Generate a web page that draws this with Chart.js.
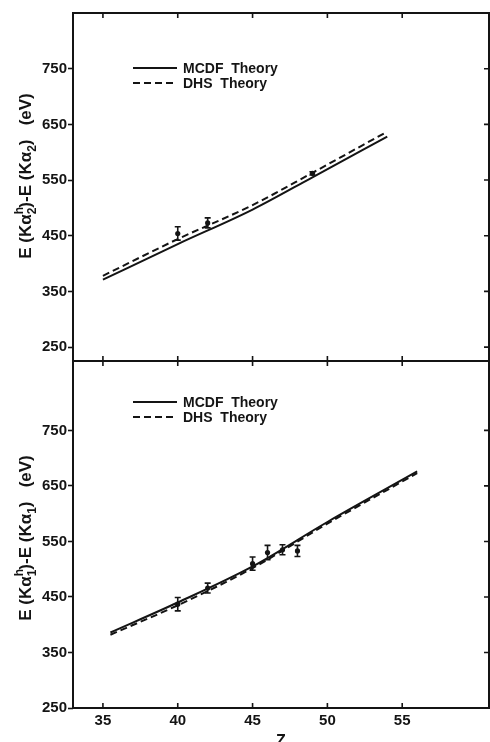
<!DOCTYPE html>
<html>
<head>
<meta charset="utf-8">
<script src="https://cdn.jsdelivr.net/npm/chart.js@4.4.1/dist/chart.umd.min.js"></script>
<style>
    html, body { margin: 0; padding: 0; background: #fff; }
    #wrap { position: relative; width: 490px; height: 742px; overflow: hidden; }
    canvas { position: absolute; left: 0; }
    #top { top: 0; }
    #bot { top: 352px; }
</style>
</head>
<body>
<div id="wrap">
    <canvas id="top" width="490" height="370"></canvas>
    <canvas id="bot" width="490" height="390"></canvas>
</div>
<script>
    "use strict";

    const FONT = '"Liberation Sans", Arial, sans-serif';
    const INK = "#141414";

    // tick labels shared by both panels
    const zTicks = [35, 40, 45, 50, 55];
    const eTicks = [250, 350, 450, 550, 650, 750];

    // upper panel: E(Ka2 h) - E(Ka2)
    const a2Z = [35, 40, 45, 49, 54];
    const a2Mcdf = [371, 435, 497, 555, 628];
    const a2Dhs = [378, 444, 505, 563, 637];
    const a2ExpZ = [40, 42, 49];
    const a2Exp = [454, 473, 562];
    const a2Err = [12, 9, 3];

    // lower panel: E(Ka1 h) - E(Ka1)
    const a1Z = [35.5, 40, 45, 50, 56];
    const a1Mcdf = [386, 440, 505, 585, 676];
    const a1Dhs = [382, 435, 502, 582, 673];
    const a1ExpZ = [40, 42, 45, 46, 47, 48];
    const a1Exp = [437, 466, 510, 530, 535, 533];
    const a1Err = [12, 9, 12, 13, 9, 10];

    const DASH = [7, 4];

    function pts(xs, ys) {
        return xs.map((x, i) => ({ x, y: ys[i] }));
    }

    /** Rotated axis title with sub/superscripts. part = [text, "sup"|"sub"|null, noAdvance] */
    function drawRich(ctx, parts, cx, cy, size) {
        const big = `bold ${size}px ${FONT}`;
        const small = `bold ${Math.round(size * 0.7)}px ${FONT}`;
        let total = 0;
        parts.forEach(p => {
            ctx.font = p[1] ? small : big;
            if (!p[2]) total += ctx.measureText(p[0]).width;
        });
        ctx.save();
        ctx.translate(cx, cy);
        ctx.rotate(-Math.PI / 2);
        ctx.fillStyle = INK;
        ctx.textAlign = "left";
        ctx.textBaseline = "alphabetic";
        let px = -total / 2;
        parts.forEach(p => {
            ctx.font = p[1] ? small : big;
            const dy = p[1] === "sup" ? -size * 0.5 : p[1] === "sub" ? size * 0.3 : 0;
            ctx.fillText(p[0], px, size * 0.36 + dy);
            if (!p[2]) px += ctx.measureText(p[0]).width;
        });
        ctx.restore();
    }

    const paper = {
        id: "paper",
        afterDraw(chart, args, o) {
            const { ctx, chartArea: a, scales: { x, y } } = chart;
            ctx.save();
            ctx.strokeStyle = INK;
            ctx.lineWidth = 2;
            ctx.strokeRect(a.left, a.top, a.right - a.left, a.bottom - a.top);

            // inward ticks on the right and on top / bottom edges
            ctx.lineWidth = 1.6;
            ctx.beginPath();
            eTicks.forEach(v => {
                const py = y.getPixelForValue(v);
                ctx.moveTo(a.right, py); ctx.lineTo(a.right - 5, py);
            });
            zTicks.forEach(v => {
                const px = x.getPixelForValue(v);
                if (o.topTick) { ctx.moveTo(px, a.top); ctx.lineTo(px, a.top + o.topTick); }
                ctx.moveTo(px, a.bottom + o.botOut); ctx.lineTo(px, a.bottom - 5);
            });
            ctx.stroke();

            // error bars
            ctx.lineWidth = 1.6;
            ctx.beginPath();
            o.expZ.forEach((z, i) => {
                const px = x.getPixelForValue(z);
                const hi = y.getPixelForValue(o.exp[i] + o.err[i]);
                const lo = y.getPixelForValue(o.exp[i] - o.err[i]);
                ctx.moveTo(px, hi); ctx.lineTo(px, lo);
                ctx.moveTo(px - 3, hi); ctx.lineTo(px + 3, hi);
                ctx.moveTo(px - 3, lo); ctx.lineTo(px + 3, lo);
            });
            ctx.stroke();

            // legend
            ctx.font = `bold 14px ${FONT}`;
            ctx.fillStyle = INK;
            ctx.textBaseline = "middle";
            [0, 1].forEach(i => {
                const ds = chart.data.datasets[i];
                const ly = a.top + o.legendTop + i * 15;
                ctx.setLineDash(ds.borderDash || []);
                ctx.lineWidth = 1.8;
                ctx.beginPath();
                ctx.moveTo(133, ly); ctx.lineTo(177, ly);
                ctx.stroke();
                ctx.setLineDash([]);
                ctx.fillText(ds.label, 183, ly + 1);
            });

            drawRich(ctx, o.title, 25, o.titleCy, 17);
            ctx.restore();
        },
    };

    function makePanel(id, opt) {
        const tickFont = { family: FONT, size: 15, weight: "bold" };
        return new Chart(document.getElementById(id), {
            type: "line",
            data: {
                datasets: [
                    { label: "MCDF  Theory", data: pts(opt.z, opt.mcdf), borderColor: INK,
                      borderWidth: 2, pointRadius: 0, cubicInterpolationMode: "monotone" },
                    { label: "DHS  Theory", data: pts(opt.z, opt.dhs), borderColor: INK,
                      borderWidth: 2, borderDash: DASH, pointRadius: 0, cubicInterpolationMode: "monotone" },
                    { label: "exp", data: pts(opt.expZ, opt.exp), showLine: false,
                      pointRadius: 2.6, pointBackgroundColor: INK, pointBorderColor: INK, borderWidth: 0 },
                ],
            },
            options: {
                responsive: false, animation: false,
                layout: { padding: opt.padding, autoPadding: false },
                plugins: {
                    legend: { display: false }, tooltip: { enabled: false },
                    paper: {
                        topTick: opt.topTick, botOut: opt.botOut, legendTop: opt.legendTop,
                        expZ: opt.expZ, exp: opt.exp, err: opt.err,
                        title: opt.title, titleCy: opt.titleCy,
                    },
                },
                scales: {
                    x: {
                        type: "linear", min: 33, max: 60.8, display: opt.showX,
                        afterBuildTicks: s => { s.ticks = zTicks.map(v => ({ value: v })); },
                        afterFit: s => {
                            if (opt.showX) s.height = 34;
                            s.paddingLeft = 0; s.paddingRight = 0;
                        },
                        grid: { display: false, drawTicks: false },
                        border: { display: false },
                        ticks: { padding: 4, color: INK, font: tickFont },
                        title: { display: true, text: "Z", color: INK,
                                 font: { family: FONT, size: 16, weight: "bold" },
                                 padding: { top: 0, bottom: -9 } },
                    },
                    y: {
                        min: opt.yMin, max: opt.yMax,
                        afterBuildTicks: s => { s.ticks = eTicks.map(v => ({ value: v })); },
                        afterFit: s => { s.width = 73; s.paddingTop = 0; s.paddingBottom = 0; },
                        grid: { drawOnChartArea: false, tickLength: 5, tickWidth: 1.6, color: INK },
                        border: { display: false },
                        ticks: { padding: 1, color: INK, font: tickFont },
                    },
                },
            },
            plugins: [paper],
        });
    }

    makePanel("top", {
        z: a2Z, mcdf: a2Mcdf, dhs: a2Dhs, expZ: a2ExpZ, exp: a2Exp, err: a2Err,
        yMin: 225, yMax: 850, showX: false,
        padding: { left: 0, top: 13, right: 1, bottom: 9 },
        topTick: 5, botOut: 5, legendTop: 55, titleCy: 176,
        title: [["E (Kα"], ["h", "sup", true], ["2", "sub"], [")-E (Kα"], ["2", "sub"], [")   (eV)"]],
    });

    makePanel("bot", {
        z: a1Z, mcdf: a1Mcdf, dhs: a1Dhs, expZ: a1ExpZ, exp: a1Exp, err: a1Err,
        yMin: 250, yMax: 875, showX: true,
        padding: { left: 0, top: 9, right: 1, bottom: 0 },
        topTick: 0, botOut: 0, legendTop: 41, titleCy: 538 - 352,
        title: [["E (Kα"], ["h", "sup", true], ["1", "sub"], [")-E (Kα"], ["1", "sub"], [")   (eV)"]],
    });
</script>
</body>
</html>
